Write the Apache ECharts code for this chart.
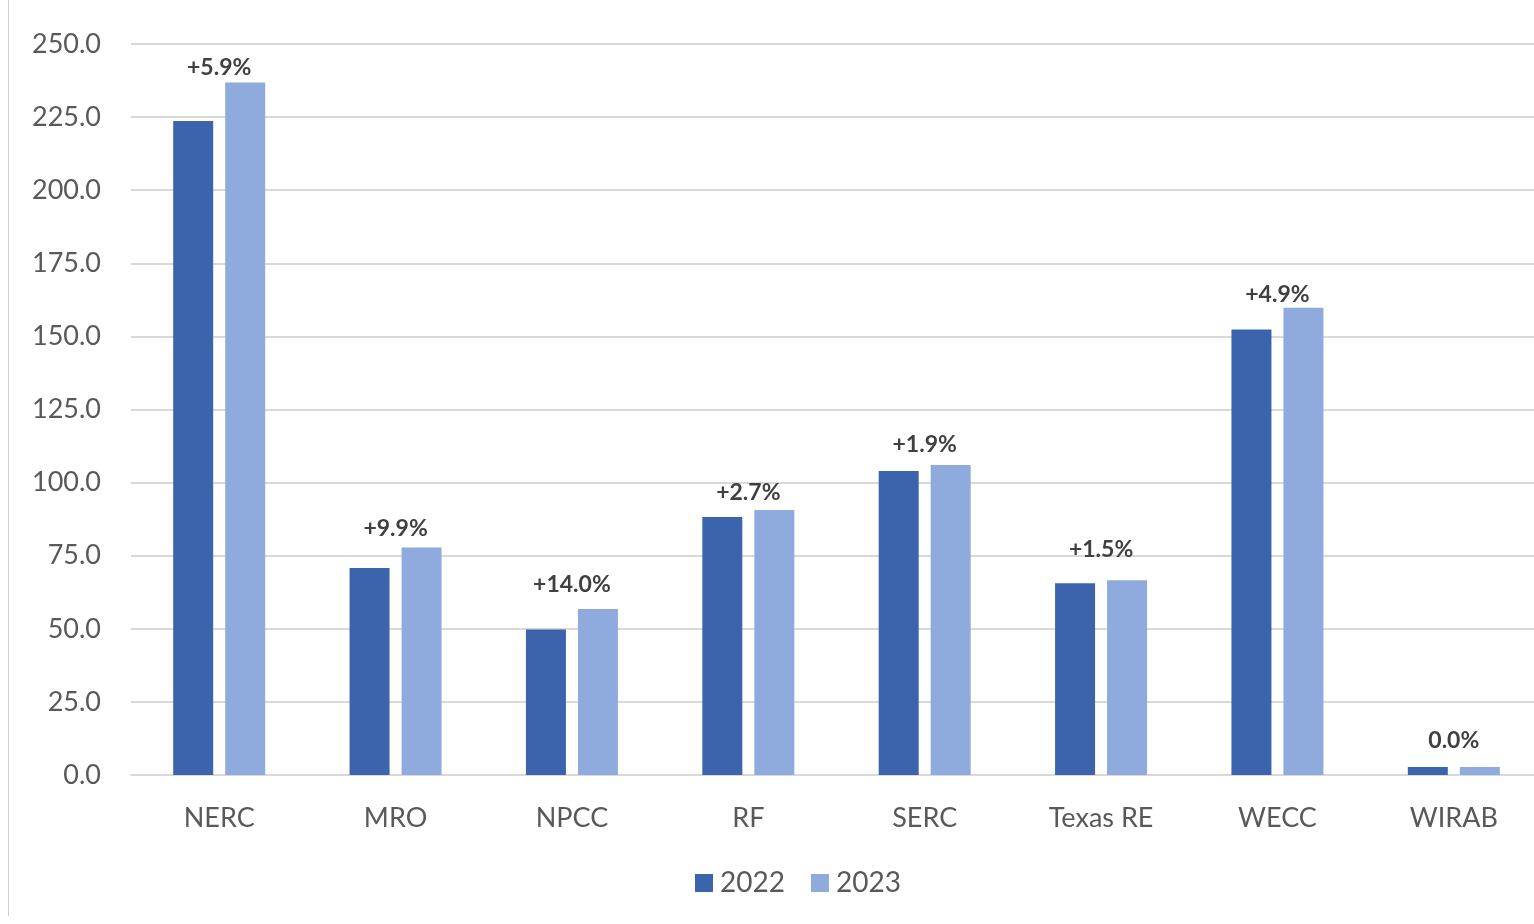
<!DOCTYPE html>
<html>
<head>
<meta charset="utf-8">
<script src="https://cdn.jsdelivr.net/npm/echarts@6/dist/echarts.min.js"></script>
<style>
  html, body { margin: 0; padding: 0; background: #fff; }
  #chart { width: 1534px; height: 924px; }
</style>
</head>
<body>
<div id="chart"></div>
<script>
// regions and yearly values
const categories = ['NERC', 'MRO', 'NPCC', 'RF', 'SERC', 'Texas RE', 'WECC', 'WIRAB'];
const values2022 = [223.7, 70.8, 49.8, 88.2, 104.0, 65.6, 152.4, 2.7];
const values2023 = [236.8, 77.8, 56.8, 90.6, 106.0, 66.6, 159.8, 2.7];
const changeLabels = ['+5.9%', '+9.9%', '+14.0%', '+2.7%', '+1.9%', '+1.5%', '+4.9%', '0.0%'];

const COLOR_2022 = '#3B64AD';
const COLOR_2023 = '#8FAADC';
const FONT = 'Lato, "Open Sans", sans-serif';

// the change labels sit at slightly different heights above each pair
const labelDistance = [4, 7, 13, 6, 9, 19, 2, 15];

const chart = echarts.init(document.getElementById('chart'));

chart.setOption({
    animation: false,
    textStyle: { fontFamily: FONT },
    grid: {
        left: 131, width: 1411, top: 44, bottom: 149,
        containLabel: false, outerBoundsMode: 'none',
    },
    legend: {
        data: ['2022', '2023'],
        bottom: 22,
        left: 690,
        itemWidth: 18,
        itemHeight: 18,
        itemGap: 26,
        icon: 'rect',
        textStyle: { fontSize: 28, color: '#595959', fontFamily: FONT, padding: [0, 0, 0, 2] },
    },
    xAxis: {
        type: 'category',
        data: categories,
        axisLine: { show: true, lineStyle: { color: '#D9D9D9', width: 2 } },
        axisTick: { show: false },
        axisLabel: { fontSize: 27, color: '#595959', margin: 30, fontFamily: FONT },
    },
    yAxis: {
        type: 'value',
        min: 0,
        max: 250,
        interval: 25,
        axisLine: { show: false },
        axisTick: { show: false },
        axisLabel: {
            fontSize: 27, color: '#595959', margin: 30, fontFamily: FONT,
            formatter: v => v.toFixed(1),
        },
        splitLine: { lineStyle: { color: '#D9D9D9', width: 2 } },
    },
    series: [
        {
            name: '2022',
            type: 'bar',
            data: values2022,
            barWidth: 40,
            barGap: '30%',
            itemStyle: { color: COLOR_2022 },
        },
        {
            name: '2023',
            type: 'bar',
            data: values2023.map((v, i) => ({
                value: v,
                label: { distance: labelDistance[i] },
            })),
            barWidth: 40,
            itemStyle: { color: COLOR_2023 },
            label: {
                show: true,
                position: 'top',
                offset: [-26, 0],
                formatter: p => changeLabels[p.dataIndex],
                fontSize: 23,
                fontWeight: 'bold',
                color: '#404040',
                fontFamily: FONT,
            },
        },
    ],
    graphic: [
        {
            type: 'line',
            shape: { x1: 8.5, y1: 0, x2: 8.5, y2: 916 },
            style: { stroke: '#D0D0D0', lineWidth: 1 },
        },
    ],
});
</script>
</body>
</html>
